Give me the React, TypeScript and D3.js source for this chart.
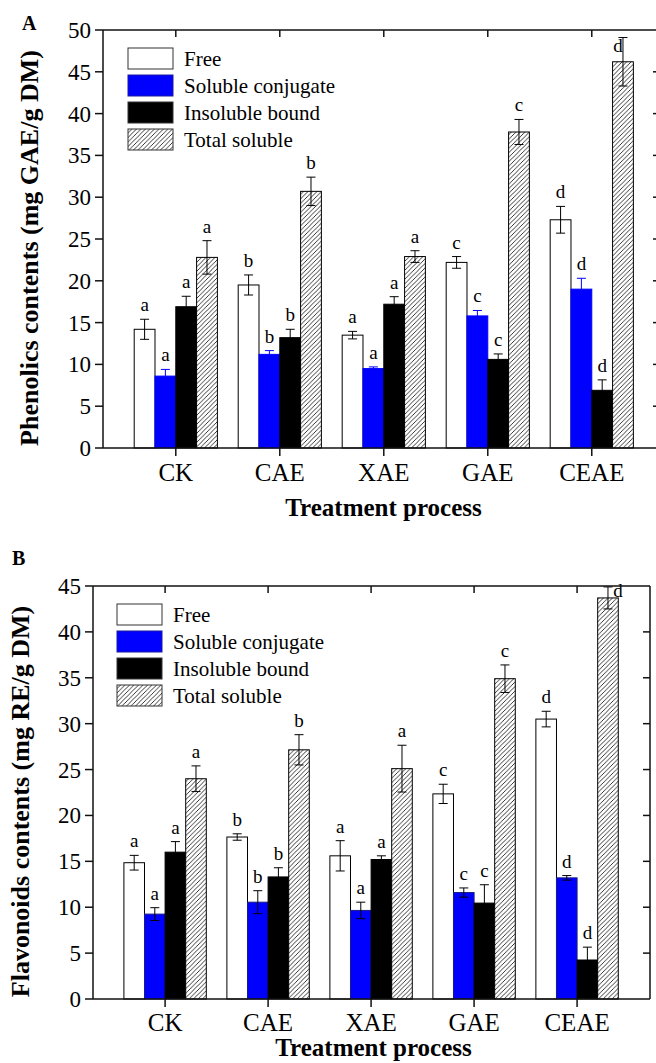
import * as d3 from 'd3'

const CATEGORIES = ['CK', 'CAE', 'XAE', 'GAE', 'CEAE']
const SERIES = ['Free', 'Soluble conjugate', 'Insoluble bound', 'Total soluble']
const LETTERS = ['a', 'b', 'a', 'c', 'd']

// A: phenolics (mg GAE/g DM)
const PHEN_FREE = [14.2, 19.5, 13.5, 22.2, 27.3]
const PHEN_FREE_ERR = [1.2, 1.2, 0.45, 0.7, 1.6]
const PHEN_SOL = [8.6, 11.2, 9.5, 15.8, 19.0]
const PHEN_SOL_ERR = [0.8, 0.45, 0.2, 0.65, 1.3]
const PHEN_INSOL = [16.9, 13.2, 17.2, 10.6, 6.9]
const PHEN_INSOL_ERR = [1.25, 1.0, 0.9, 0.65, 1.25]
const PHEN_TOTAL = [22.8, 30.7, 22.9, 37.8, 46.2]
const PHEN_TOTAL_ERR = [2.0, 1.7, 0.7, 1.5, 2.9]

// B: flavonoids (mg RE/g DM)
const FLAV_FREE = [14.85, 17.65, 15.6, 22.35, 30.5]
const FLAV_FREE_ERR = [0.8, 0.35, 1.65, 1.05, 0.85]
const FLAV_SOL = [9.25, 10.55, 9.65, 11.6, 13.2]
const FLAV_SOL_ERR = [0.7, 1.25, 0.9, 0.5, 0.25]
const FLAV_INSOL = [16.0, 13.3, 15.2, 10.45, 4.25]
const FLAV_INSOL_ERR = [1.15, 1.0, 0.4, 2.0, 1.4]
const FLAV_TOTAL = [24.0, 27.15, 25.1, 34.9, 43.7]
const FLAV_TOTAL_ERR = [1.4, 1.65, 2.55, 1.5, 1.2]

const FONT = '"Liberation Serif", "Times New Roman", serif'
const FILLS = ['#ffffff', '#0000ff', '#000000', 'url(#hatch)']
const AXIS = '#111'

type PanelProps = {
  tag: string
  tagX: number
  tagY: number
  title: string
  titleX: number
  values: number[][]
  errors: number[][]
  yMax: number
  xDomain: [number, number]
  left: number
  right: number
  top: number
  bottom: number
  barStroke: string[]
  errColor: string[]
  legendX: number
  legendY: number
  catY: number
  xTitleY: number
  sideLabel: { dx: number; dy: number }
}

function Panel(p: PanelProps) {
  const x = d3.scaleLinear().domain(p.xDomain).range([p.left, p.right])
  const y = d3.scaleLinear().domain([0, p.yMax]).range([p.bottom, p.top])
  const unit = x(2) - x(1)
  const bw = unit * 0.2
  const yTicks = y.ticks(p.yMax / 5)
  const cx = (i: number) => x(i + 1)

  return (
    <g fontFamily={FONT} fill="#000">
      <text x={p.tagX} y={p.tagY} fontSize={20} fontWeight="bold">{p.tag}</text>

      {/* bars */}
      {p.values.map((vals, s) =>
        vals.map((v, i) => {
          const bx = cx(i) + (s - 2) * bw
          return (
            <rect key={`b${s}-${i}`} x={bx} y={y(v)} width={bw} height={y(0) - y(v)}
              fill={FILLS[s]} stroke={p.barStroke[s]} strokeWidth={1} />
          )
        })
      )}

      {/* error bars + letters */}
      {p.values.map((vals, s) =>
        vals.map((v, i) => {
          const mx = cx(i) + (s - 1.5) * bw
          const e = p.errors[s][i]
          const yt = y(v + e)
          const yb = y(v - e)
          const overflow = yt - 8 - 14 < p.top
          const lx = overflow ? mx + p.sideLabel.dx : mx
          const ly = overflow ? yt + p.sideLabel.dy : yt - 8
          return (
            <g key={`e${s}-${i}`}>
              <g stroke={p.errColor[s]} strokeWidth={1}>
                <line x1={mx} x2={mx} y1={yt} y2={yb} />
                <line x1={mx - 4.5} x2={mx + 4.5} y1={yt} y2={yt} />
                <line x1={mx - 4.5} x2={mx + 4.5} y1={yb} y2={yb} />
              </g>
              <text x={lx} y={ly} fontSize={19} textAnchor="middle">{LETTERS[i]}</text>
            </g>
          )
        })
      )}

      {/* frame */}
      <g stroke={AXIS} strokeWidth={1.5} fill="none">
        <line x1={p.left} x2={p.right} y1={p.bottom} y2={p.bottom} />
        <line x1={p.left} x2={p.right} y1={p.top} y2={p.top} />
        <line x1={p.left} x2={p.left} y1={p.top} y2={p.bottom} />
        <line x1={p.right} x2={p.right} y1={p.top} y2={p.bottom} />
        {yTicks.map(t => (
          <g key={`yt${t}`}>
            <line x1={p.left - 8} x2={p.left} y1={y(t)} y2={y(t)} />
            {t > 0 && t < p.yMax && <line x1={p.right - 7} x2={p.right} y1={y(t)} y2={y(t)} />}
          </g>
        ))}
        {CATEGORIES.map((c, i) => (
          <g key={`xt${c}`}>
            <line x1={cx(i)} x2={cx(i)} y1={p.bottom} y2={p.bottom + 8} />
            <line x1={cx(i)} x2={cx(i)} y1={p.top} y2={p.top + 7} />
          </g>
        ))}
      </g>

      {yTicks.map(t => (
        <text key={`yl${t}`} x={p.left - 12} y={y(t)} dy="0.35em" fontSize={23} textAnchor="end">{t}</text>
      ))}
      {CATEGORIES.map((c, i) => (
        <text key={`xl${c}`} x={cx(i)} y={p.catY} fontSize={25} textAnchor="middle">{c}</text>
      ))}

      <text x={(p.left + p.right) / 2 + 2} y={p.xTitleY} fontSize={25} fontWeight="bold" textAnchor="middle">
        Treatment process
      </text>
      <text transform={`translate(${p.titleX},${(p.top + p.bottom) / 2 + 9}) rotate(-90)`}
        fontSize={26} fontWeight="bold" textAnchor="middle">
        {p.title}
      </text>

      {/* legend */}
      {SERIES.map((name, s) => (
        <g key={`lg${s}`}>
          <rect x={p.legendX} y={p.legendY + s * 27} width={45} height={21}
            fill={FILLS[s]} stroke={s === 1 ? '#1a1aa0' : '#333'} strokeWidth={1} />
          <text x={p.legendX + 56} y={p.legendY + s * 27 + 18} fontSize={21}>{name}</text>
        </g>
      ))}
    </g>
  )
}

export default function App() {
  return (
    <svg width={656} height={1063} style={{ position: 'absolute', left: 0, top: 0, background: '#fff' }}>
      <defs>
        <pattern id="hatch" patternUnits="userSpaceOnUse" width={4.5} height={4.5}>
          <rect width={4.5} height={4.5} fill="#fff" />
          <path d="M-1,1 L1,-1 M0,4.5 L4.5,0 M3.5,5.5 L5.5,3.5" stroke="#222" strokeWidth={0.9} />
        </pattern>
      </defs>
      <Panel
        tag="A" tagX={22} tagY={30}
        title="Phenolics contents (mg GAE/g DM)" titleX={38}
        values={[PHEN_FREE, PHEN_SOL, PHEN_INSOL, PHEN_TOTAL]}
        errors={[PHEN_FREE_ERR, PHEN_SOL_ERR, PHEN_INSOL_ERR, PHEN_TOTAL_ERR]}
        yMax={50} xDomain={[0.3, 5.656]}
        left={103} right={660} top={30} bottom={448}
        barStroke={['#000', '#0000ff', '#000', '#000']}
        errColor={['#000', '#0000ff', '#000', '#000']}
        legendX={128} legendY={48}
        catY={481} xTitleY={516}
        sideLabel={{ dx: -5, dy: 14 }}
      />
      <Panel
        tag="B" tagX={12} tagY={565}
        title="Flavonoids contents (mg RE/g DM)" titleX={29}
        values={[FLAV_FREE, FLAV_SOL, FLAV_INSOL, FLAV_TOTAL]}
        errors={[FLAV_FREE_ERR, FLAV_SOL_ERR, FLAV_INSOL_ERR, FLAV_TOTAL_ERR]}
        yMax={45} xDomain={[0.3, 5.708]}
        left={93} right={650} top={586} bottom={999}
        barStroke={['#000', '#1c1c80', '#000', '#000']}
        errColor={['#000', '#000', '#000', '#000']}
        legendX={117} legendY={604}
        catY={1031} xTitleY={1056}
        sideLabel={{ dx: 10, dy: 10 }}
      />
    </svg>
  )
}
